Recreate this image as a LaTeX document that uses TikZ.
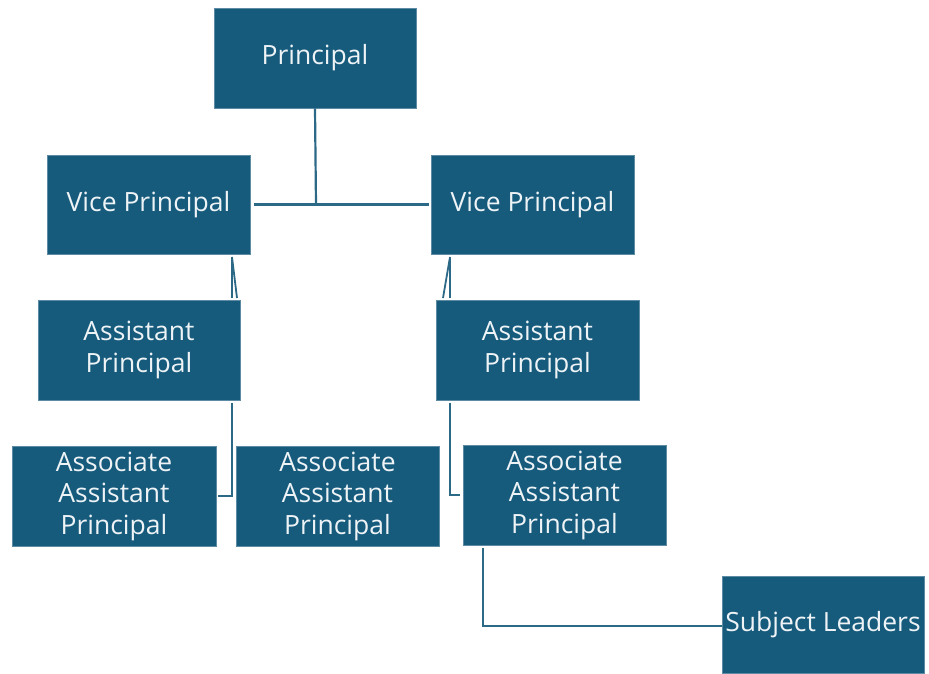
\documentclass[tikz,border=0pt]{standalone}
\usepackage{fontspec}
\setmainfont{Open Sans}
\usetikzlibrary{calc}
\definecolor{boxblue}{HTML}{165A7C}
\definecolor{linkblue}{HTML}{2C6987}
\definecolor{boxtext}{HTML}{EEF3F6}
\begin{document}
\begin{tikzpicture}[x=1pt,y=-1pt,
  orgbox/.style={rectangle, fill=boxblue, draw=boxblue!70!white, line width=0.6pt, inner sep=0pt,
    text=boxtext, align=center, font=\fontsize{26.5}{31.5}\selectfont},
  link/.style={draw=linkblue, line width=2.2pt}]
\useasboundingbox (0,0) rectangle (929,673);
\node[orgbox, minimum width=202, minimum height=100] (P) at (315,58) {Principal};
\node[orgbox, minimum width=203, minimum height=99] (VPL) at (148.5,204.5) {Vice Principal};
\node[orgbox, minimum width=203, minimum height=99] (VPR) at (532.5,204.5) {Vice Principal};
\node[orgbox, minimum width=202, minimum height=100] (APL) at (139,350) {Assistant\\Principal};
\node[orgbox, minimum width=203, minimum height=100] (APR) at (537.5,350) {Assistant\\Principal};
\node[orgbox, minimum width=204, minimum height=100] (A1) at (114,496) {Associate\\Assistant\\Principal};
\node[orgbox, minimum width=203, minimum height=100] (A2) at (337.5,496) {Associate\\Assistant\\Principal};
\node[orgbox, minimum width=203, minimum height=100] (A3) at (564.5,495) {Associate\\Assistant\\Principal};
\node[orgbox, minimum width=202, minimum height=97] (SL) at (823,624.5) {Subject Leaders};
% coordinates
\coordinate (j) at (316,205);
\coordinate (l1) at (232,257);
\coordinate (l2) at (232,298);
\coordinate (l3) at (237,298);
\coordinate (l4) at (232,403);
\coordinate (l5) at (232,496);
\coordinate (r1) at (450,257);
\coordinate (r2) at (450,298);
\coordinate (r3) at (443,298);
\coordinate (r4) at (450,403);
\coordinate (r5) at (450,495);
\coordinate (s1) at (483,548);
\coordinate (s2) at (483,626);
% connectors
\draw[link] (P.south) -- (j);
\draw[link, shorten <=4pt, shorten >=2pt] (VPL.east) -- (VPR.west);
\draw[link, line width=1.8pt] (l1) -- (l2);
\draw[link, line width=1.8pt] (l1) -- (l3);
\draw[link] (l4) -- (l5) -- (A1.east -| 218,0);
\draw[link, line width=1.8pt] (r1) -- (r2);
\draw[link, line width=1.8pt] (r1) -- (r3);
\draw[link] (r4) -- (r5) -- (A3.west -| 460,0);
\draw[link] (s1) -- (s2) -- (SL.west |- s2);
\end{tikzpicture}
\end{document}
